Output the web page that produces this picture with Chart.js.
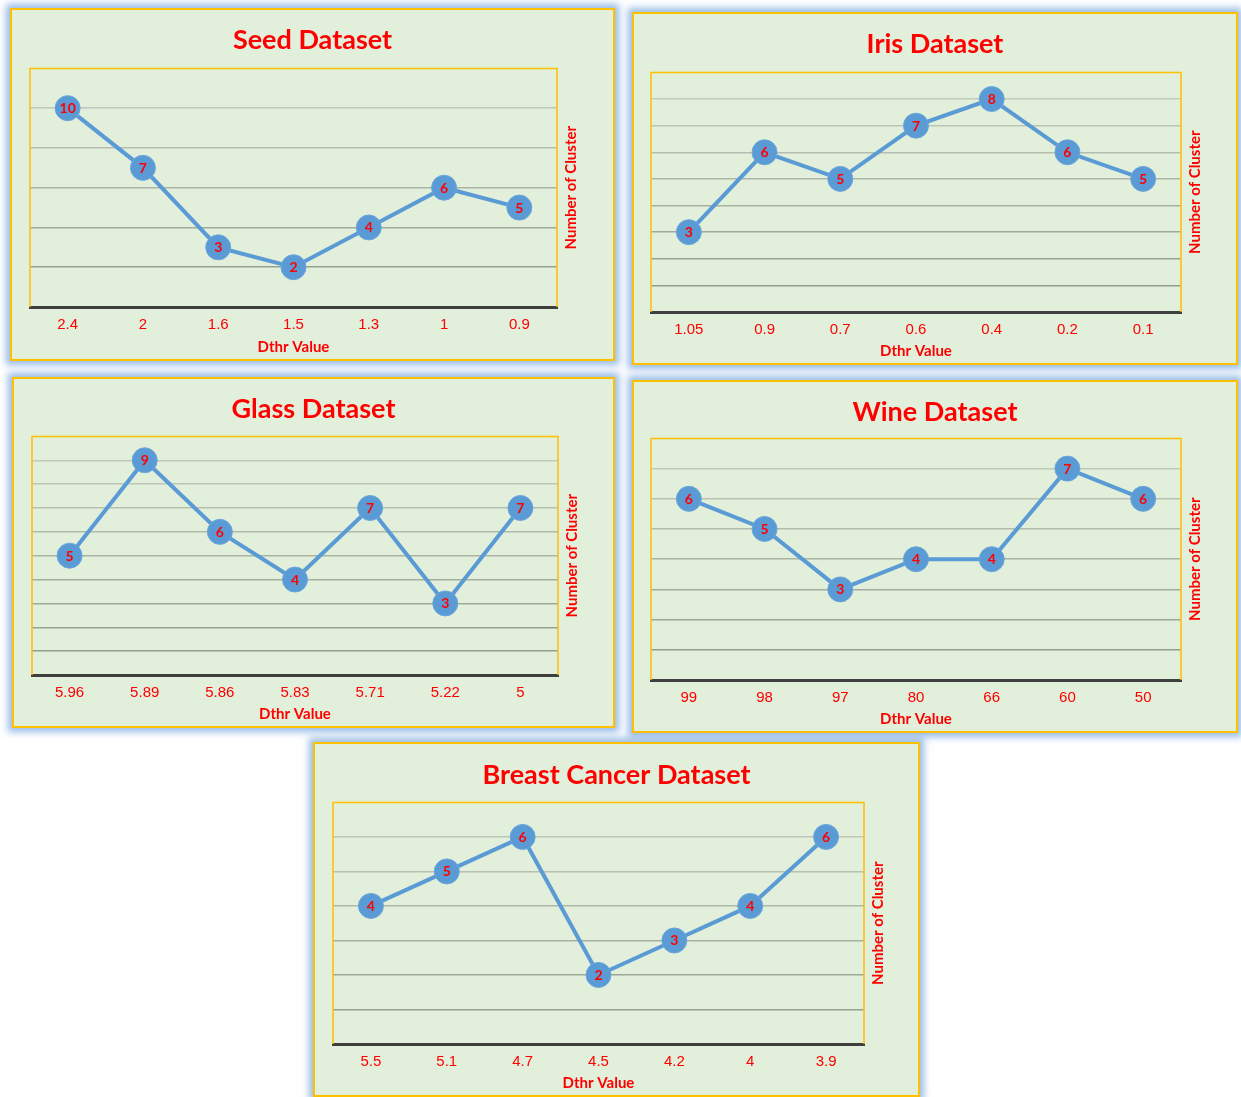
<!DOCTYPE html>
<html>
<head>
<meta charset="utf-8">
<script src="https://cdn.jsdelivr.net/npm/chart.js@4"></script>
<style>
  body { margin: 0; background: #ffffff; width: 1241px; height: 1097px; position: relative; overflow: hidden; }
  .panel {
    position: absolute;
    box-sizing: border-box;
    background: #e2efda;
    border: 2px solid #ffc000;
    box-shadow: 0 0 7px 4px rgba(110, 160, 220, 0.7);
  }
  .panel canvas { display: block; }
</style>
</head>
<body>
<div class="panel" id="seedBox"><canvas id="seedChart"></canvas></div>
<div class="panel" id="irisBox"><canvas id="irisChart"></canvas></div>
<div class="panel" id="glassBox"><canvas id="glassChart"></canvas></div>
<div class="panel" id="wineBox"><canvas id="wineChart"></canvas></div>
<div class="panel" id="breastBox"><canvas id="breastChart"></canvas></div>
<script>
// data
const seedLabels = ['2.4', '2', '1.6', '1.5', '1.3', '1', '0.9'];
const seedValues = [10, 7, 3, 2, 4, 6, 5];

const irisLabels = ['1.05', '0.9', '0.7', '0.6', '0.4', '0.2', '0.1'];
const irisValues = [3, 6, 5, 7, 8, 6, 5];

const glassLabels = ['5.96', '5.89', '5.86', '5.83', '5.71', '5.22', '5'];
const glassValues = [5, 9, 6, 4, 7, 3, 7];

const wineLabels = ['99', '98', '97', '80', '66', '60', '50'];
const wineValues = [6, 5, 3, 4, 4, 7, 6];

const breastLabels = ['5.5', '5.1', '4.7', '4.5', '4.2', '4', '3.9'];
const breastValues = [4, 5, 6, 2, 3, 4, 6];

const xTitle = 'Dthr Value';
const yTitle = 'Number of Cluster';

// panel layout: outer box [left, top, width, height], plot area [l, t, r, b], title centre y
const panels = [
    { key: 'seed', title: 'Seed Dataset', labels: seedLabels, values: seedValues, max: 12, step: 2,
      box: [10, 8, 605, 353], plot: [30, 68, 557, 307], titleY: 40 },
    { key: 'iris', title: 'Iris Dataset', labels: irisLabels, values: irisValues, max: 9, step: 1,
      box: [632, 12, 606, 353], plot: [651, 72, 1181, 312], titleY: 44 },
    { key: 'glass', title: 'Glass Dataset', labels: glassLabels, values: glassValues, max: 10, step: 1,
      box: [12, 377, 603, 351], plot: [32, 436, 558, 675], titleY: 409 },
    { key: 'wine', title: 'Wine Dataset', labels: wineLabels, values: wineValues, max: 8, step: 1,
      box: [632, 380, 606, 353], plot: [651, 438, 1181, 680], titleY: 412 },
    { key: 'breast', title: 'Breast Cancer Dataset', labels: breastLabels, values: breastValues, max: 7, step: 1,
      box: [313, 742, 607, 355], plot: [333, 802, 864, 1044], titleY: 775 }
];

const RED = '#ff0000';
const BLUE = '#5b9bd5';

function mix(a, b, t) {
    const c = a.map((v, i) => Math.round(v + (b[i] - v) * t));
    return 'rgb(' + c.join(',') + ')';
}

// gold frame on top/left/right of the plot area
const plotFrame = {
    id: 'plotFrame',
    beforeDatasetsDraw(chart) {
        const { ctx, chartArea: a } = chart;
        ctx.save();
        ctx.strokeStyle = '#ffc000';
        ctx.lineWidth = 1.5;
        ctx.beginPath();
        ctx.moveTo(a.left, a.bottom);
        ctx.lineTo(a.left, a.top);
        ctx.lineTo(a.right, a.top);
        ctx.lineTo(a.right, a.bottom);
        ctx.stroke();
        ctx.restore();
    }
};

// value written inside each marker
const pointLabels = {
    id: 'pointLabels',
    afterDatasetsDraw(chart) {
        const ctx = chart.ctx;
        const meta = chart.getDatasetMeta(0);
        const data = chart.data.datasets[0].data;
        ctx.save();
        ctx.font = 'bold 14px Lato';
        ctx.fillStyle = RED;
        ctx.textAlign = 'center';
        ctx.textBaseline = 'middle';
        meta.data.forEach((pt, i) => {
            ctx.fillText(String(data[i]), pt.x, pt.y + 0.5);
        });
        ctx.restore();
    }
};

// right-side axis title, reading bottom to top
const sideTitle = {
    id: 'sideTitle',
    afterDraw(chart) {
        const { ctx, chartArea: a } = chart;
        ctx.save();
        ctx.translate(a.right + 14, (a.top + a.bottom) / 2);
        ctx.rotate(-Math.PI / 2);
        ctx.font = 'bold 15px Lato';
        ctx.fillStyle = RED;
        ctx.textAlign = 'center';
        ctx.textBaseline = 'middle';
        ctx.fillText(yTitle, 0, 0);
        ctx.restore();
    }
};

panels.forEach(p => {
    const box = document.getElementById(p.key + 'Box');
    box.style.left = p.box[0] + 'px';
    box.style.top = p.box[1] + 'px';
    box.style.width = p.box[2] + 'px';
    box.style.height = p.box[3] + 'px';

    const cx = p.box[0] + 2, cy = p.box[1] + 2;
    const cw = p.box[2] - 4, ch = p.box[3] - 4;
    const canvas = document.getElementById(p.key + 'Chart');
    canvas.width = cw;
    canvas.height = ch;

    const padLeft = p.plot[0] - cx;
    const padRight = cx + cw - p.plot[2];
    const plotTop = p.plot[1] - cy;
    const xAxisHeight = cy + ch - p.plot[3];
    const titleMid = p.titleY - cy;
    const titleLine = 32;

    new Chart(canvas.getContext('2d'), {
        type: 'line',
        data: {
            labels: p.labels,
            datasets: [{
                data: p.values,
                borderColor: BLUE,
                borderWidth: 4,
                backgroundColor: BLUE,
                pointRadius: 12.5,
                pointBackgroundColor: BLUE,
                pointBorderColor: '#6aa6dc',
                pointBorderWidth: 1,
                tension: 0,
                fill: false
            }]
        },
        plugins: [plotFrame, pointLabels, sideTitle],
        options: {
            responsive: false,
            animation: false,
            // symmetric padding keeps the title centred on the panel; the right axis takes the rest
            layout: { padding: { left: padLeft, right: padLeft, top: 0, bottom: 0 } },
            plugins: {
                legend: { display: false },
                tooltip: { enabled: false },
                title: {
                    display: true,
                    text: p.title,
                    color: RED,
                    font: { family: 'Lato', weight: 'bold', size: 27, lineHeight: 1.2 },
                    padding: { top: titleMid - titleLine / 2, bottom: plotTop - titleMid - titleLine / 2 }
                }
            },
            scales: {
                x: {
                    offset: true,
                    afterFit(scale) { scale.height = xAxisHeight; },
                    grid: { display: false, drawTicks: false },
                    border: { display: true, color: '#3f3f3f', width: 3 },
                    ticks: {
                        color: RED,
                        padding: 9,
                        font: { family: 'Liberation Sans', size: 15 },
                        maxRotation: 0
                    },
                    title: {
                        display: true,
                        text: xTitle,
                        color: RED,
                        font: { family: 'Lato', weight: 'bold', size: 15 },
                        padding: { top: 3, bottom: 3 }
                    }
                },
                y: {
                    position: 'right',
                    min: 0,
                    max: p.max,
                    afterFit(scale) { scale.width = padRight - padLeft; },
                    ticks: { display: false, stepSize: p.step },
                    border: { display: false },
                    grid: {
                        drawTicks: false,
                        lineWidth: 1.5,
                        color: ctx => {
                            const v = ctx.tick.value;
                            if (v <= 0 || v >= p.max) return 'rgba(0,0,0,0)';
                            return mix([140, 152, 137], [200, 208, 194], v / p.max);
                        }
                    },
                    title: { display: false }
                }
            }
        }
    });
});
</script>
</body>
</html>
